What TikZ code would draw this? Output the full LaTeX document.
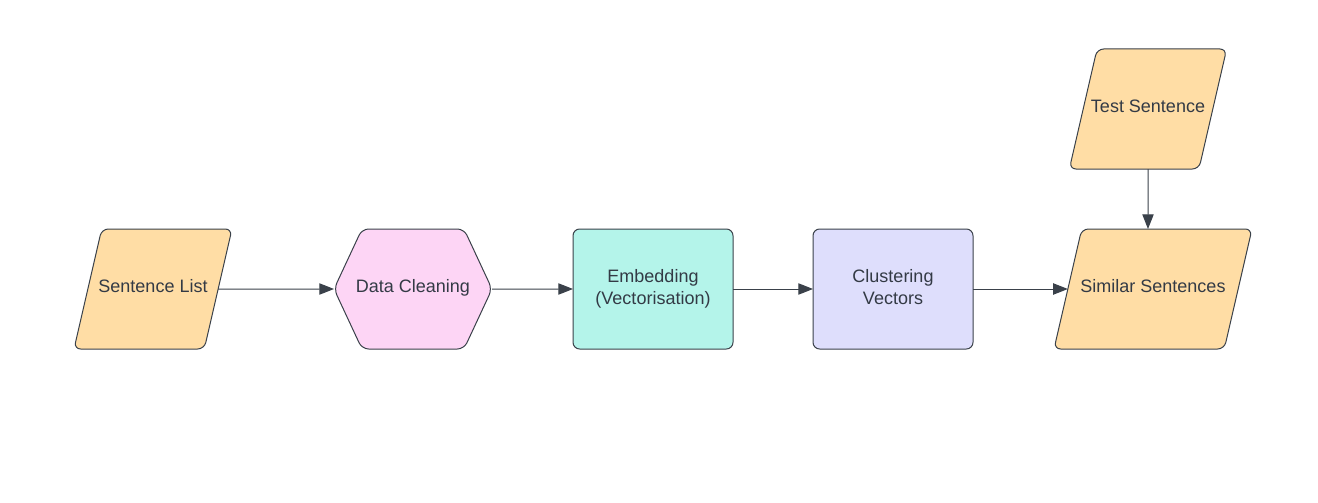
\documentclass[tikz,border=0pt]{standalone}
\usepackage{fontspec}
\setmainfont{Liberation Sans}
\usetikzlibrary{shapes.geometric, shapes.symbols, arrows.meta, positioning}
\definecolor{edgegray}{HTML}{3A414A}
\definecolor{textgray}{HTML}{333A45}
\definecolor{ioorange}{HTML}{FFDDA5}
\definecolor{prepink}{HTML}{FDD5F5}
\definecolor{embteal}{HTML}{B4F4EA}
\definecolor{clulilac}{HTML}{DEDEFC}
\newcommand{\squeeze}[1]{\makebox[40pt]{#1}}
\tikzstyle{block} = [draw=edgegray, line width=0.75pt, rounded corners=5pt, inner sep=0pt, outer sep=0pt,
  text=textgray, align=center, font=\fontsize{13.5}{16.5}\selectfont]
\tikzstyle{io} = [block, trapezium, trapezium left angle=77, trapezium right angle=103,
  trapezium stretches body=true, text height=9.75pt, text depth=4.5pt, inner ysep=37.875pt, fill=ioorange]
\tikzstyle{box} = [block, rectangle, minimum width=120pt, minimum height=90pt]
\tikzstyle{flow} = [->, draw=edgegray, line width=0.75pt]

\begin{document}
\begin{tikzpicture}[x=0.75pt, y=-0.75pt, node distance=180pt, >={Triangle[length=11pt,width=8.5pt]}]
    \useasboundingbox (0,0) rectangle (1318,503);
    \node [io, minimum width=118.5pt] (sentences) at (153,289) {\squeeze{Sentence List}};
    \node [block, signal, signal to=east and west, signal pointer angle=130, text depth=4.5pt,
      minimum width=118.5pt, minimum height=90pt, fill=prepink] (cleaning) at (413,289) {\squeeze{Data Cleaning}};
    \node [box, fill=embteal, right of=cleaning] (embedding) {Embedding\\(Vectorisation)};
    \node [box, fill=clulilac, right of=embedding] (clustering) {Clustering\\Vectors\vphantom{g}};
    \node [io, minimum width=148.5pt] (similar) at (1153,289) {\squeeze{Similar Sentences}};
    \node [io, minimum width=118pt] (test) at (1148,109) {\squeeze{Test Sentence}};
    \draw [flow] (sentences) -- (cleaning);
    \draw [flow] (cleaning) -- (embedding);
    \draw [flow] (embedding) -- (clustering);
    \draw [flow] (clustering) -- (similar);
    \draw [flow] (test) -- (test |- similar.north);
\end{tikzpicture}
\end{document}
